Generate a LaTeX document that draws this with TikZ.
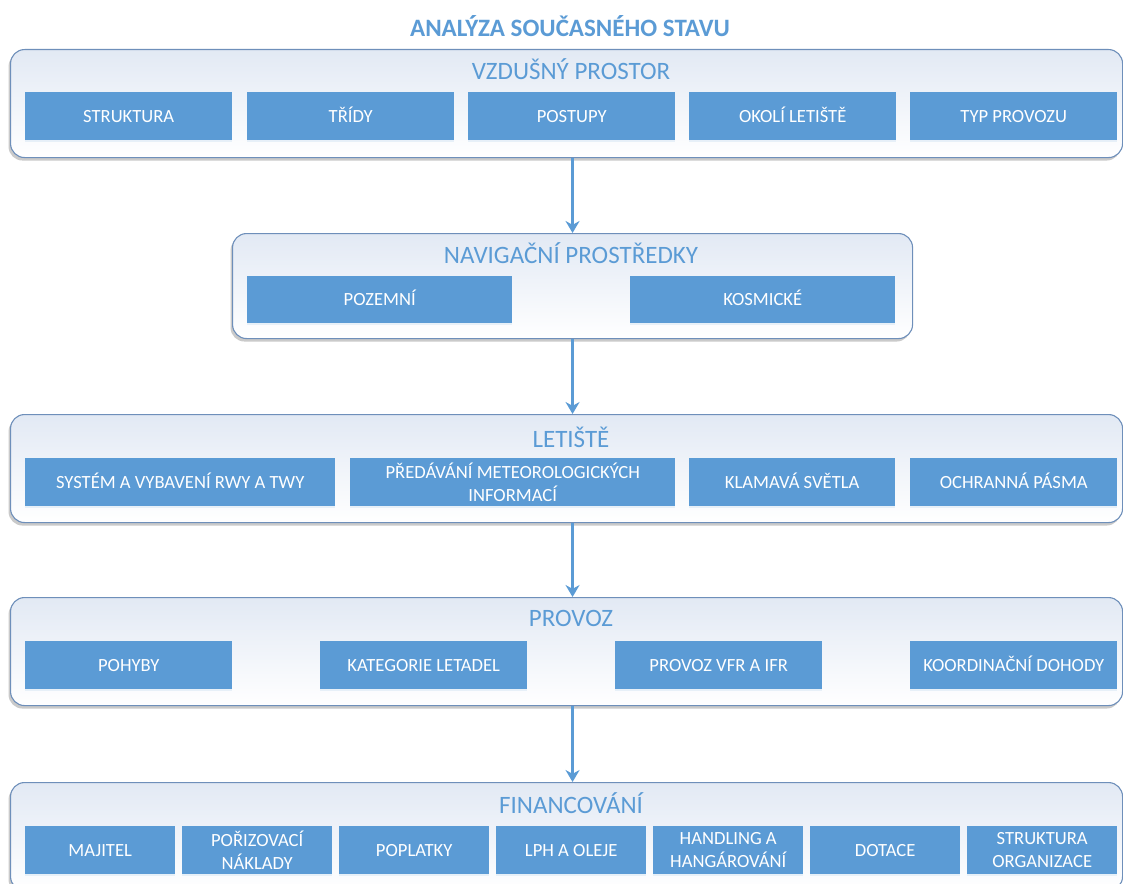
\documentclass[tikz,border=0pt]{standalone}
\usepackage{fontspec}
\setmainfont{Carlito}
\usetikzlibrary{shadows,arrows.meta}

\definecolor{boxblue}{HTML}{5B9BD5}
\definecolor{panelline}{HTML}{6E8FBA}
\definecolor{paneltop}{HTML}{E2E9F4}
\definecolor{titleblue}{HTML}{5B9BD5}

\tikzset{
  panel/.style={draw=panelline, line width=1.1pt, rounded corners=14pt,
    top color=paneltop, bottom color=white, anchor=north west, inner sep=0pt,
    drop shadow={shadow xshift=-2pt, shadow yshift=-3pt, opacity=0.35, fill=black!60}},
  ptitle/.style={text=titleblue, font=\fontsize{25}{28}\selectfont},
  cellbase/.style={fill=boxblue, text=white, anchor=north west, inner sep=0pt,
    font=\fontsize{18.6}{23}\selectfont, align=center, minimum width=#1,
    minimum height=48pt,
    drop shadow={shadow xshift=0pt, shadow yshift=-2pt, opacity=0.12, fill=boxblue}},
  cell/.style={cellbase=#1, text height=15.5pt, text depth=3pt},
  cellii/.style={cellbase=#1},
  link/.style={draw=boxblue, line width=2.6pt, -{Stealth[length=12pt,width=14pt]}}
}

\begin{document}
\begin{tikzpicture}[x=1pt, y=-1pt]
\useasboundingbox (0,0) rectangle (1123,883);

\node[text=titleblue, font=\bfseries\fontsize{25}{28}\selectfont] (title) at (570,26) {ANALÝZA SOUČASNÉHO STAVU};

% layer 1: airspace
\node[panel, minimum width=1112pt, minimum height=108pt] (p1) at (10,49) {};
\node[ptitle] (t1) at (571,69) {VZDUŠNÝ PROSTOR};
\node[cell=207pt] (a1) at (25,92) {STRUKTURA};
\node[cell=207pt] (a2) at (247,92) {TŘÍDY};
\node[cell=207pt] (a3) at (468,92) {POSTUPY};
\node[cell=207pt] (a4) at (689,92) {OKOLÍ LETIŠTĚ};
\node[cell=207pt] (a5) at (910,92) {TYP PROVOZU};

% layer 2: navigation aids
\node[panel, minimum width=680pt, minimum height=105pt] (p2) at (232,233) {};
\node[ptitle] (t2) at (571,253) {NAVIGAČNÍ PROSTŘEDKY};
\node[cell=265pt, minimum height=47pt] (b1) at (247,276) {POZEMNÍ};
\node[cell=265pt, minimum height=47pt] (b2) at (630,276) {KOSMICKÉ};

% layer 3: airport
\node[panel, minimum width=1112pt, minimum height=108pt] (p3) at (10,414) {};
\node[ptitle] (t3) at (571,437) {LETIŠTĚ};
\node[cell=310pt] (c1) at (25,458) {SYSTÉM A VYBAVENÍ RWY A TWY};
\node[cellii=325pt] (c2) at (350,458) {PŘEDÁVÁNÍ METEOROLOGICKÝCH\\INFORMACÍ};
\node[cell=206pt] (c3) at (689,458) {KLAMAVÁ SVĚTLA};
\node[cell=207pt] (c4) at (910,458) {OCHRANNÁ PÁSMA};

% layer 4: operations
\node[panel, minimum width=1112pt, minimum height=108pt] (p4) at (10,597) {};
\node[ptitle] (t4) at (571,618) {PROVOZ};
\node[cell=207pt] (d1) at (25,641) {POHYBY};
\node[cell=207pt] (d2) at (320,641) {KATEGORIE LETADEL};
\node[cell=207pt] (d3) at (615,641) {PROVOZ VFR A IFR};
\node[cell=207pt] (d4) at (910,641) {KOORDINAČNÍ DOHODY};

% layer 5: financing
\node[panel, minimum width=1112pt, minimum height=108pt] (p5) at (10,782) {};
\node[ptitle] (t5) at (571,803) {FINANCOVÁNÍ};
\node[cell=150pt] (e1) at (25,826) {MAJITEL};
\node[cellii=150pt] (e2) at (182,826) {POŘIZOVACÍ\\NÁKLADY};
\node[cell=150pt] (e3) at (339,826) {POPLATKY};
\node[cell=150pt] (e4) at (496,826) {LPH A OLEJE};
\node[cellii=150pt] (e5) at (653,826) {HANDLING A\\HANGÁROVÁNÍ};
\node[cell=150pt] (e6) at (810,826) {DOTACE};
\node[cellii=150pt] (e7) at (967,826) {STRUKTURA\\ORGANIZACE};

% connectors between layers
\draw[link] (p2.north |- p1.south) -- (p2.north);
\draw[link] (p2.south) -- (p2.south |- p3.north);
\draw[link] (p2.south |- p3.south) -- (p2.south |- p4.north);
\draw[link] (p2.south |- p4.south) -- (p2.south |- p5.north);
\end{tikzpicture}
\end{document}
